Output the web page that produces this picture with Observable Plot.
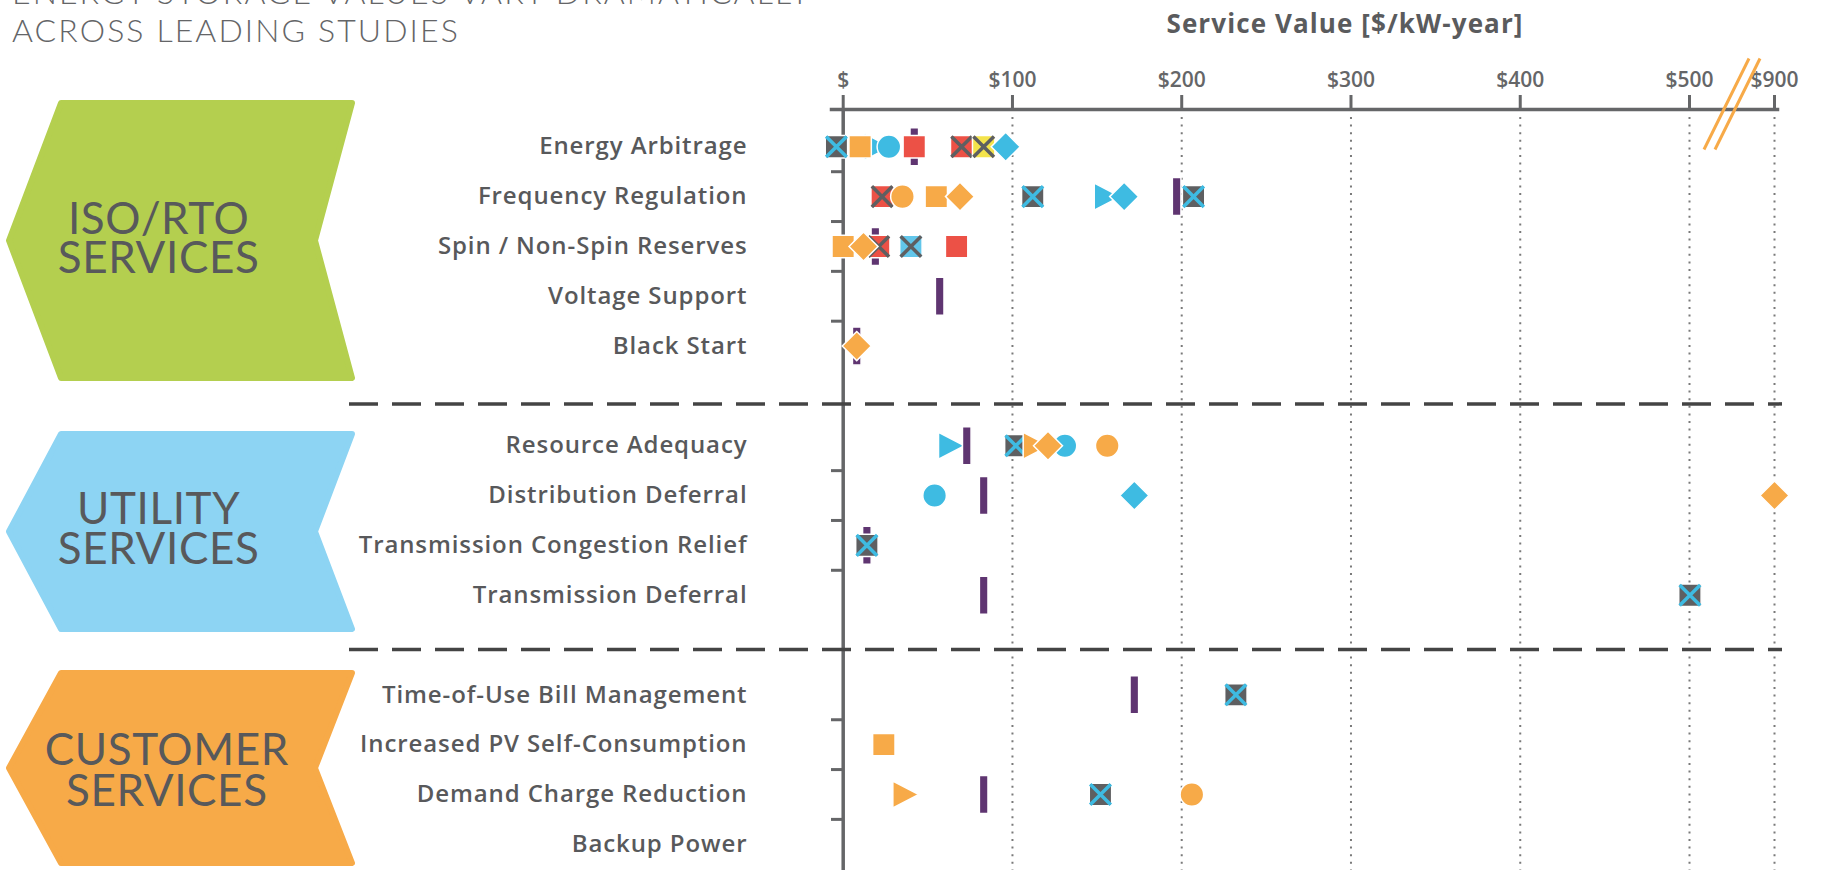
<!DOCTYPE html>
<html>
<head>
<meta charset="utf-8">
<script src="https://cdn.jsdelivr.net/npm/d3@7"></script>
<script src="https://cdn.jsdelivr.net/npm/@observablehq/plot@0.6"></script>
<style>
  html, body { margin: 0; padding: 0; background: #fff; }
  #wrap { position: relative; width: 1835px; height: 870px; overflow: hidden; background: #fff; }
  #deco, #chart { position: absolute; left: 0; top: 0; }
  .head { position: absolute; left: 12px; font-family: Lato, "Open Sans", sans-serif; font-weight: 300;
          font-size: 32px; letter-spacing: 2.1px; color: #646567; white-space: nowrap; line-height: 32px; }
  .axtitle { position: absolute; left: 1095px; width: 500px; text-align: center; top: 8px;
             font-family: "Open Sans", sans-serif; font-weight: 700; font-size: 26px; letter-spacing: 1.1px;
             color: #5a5b5d; line-height: 30px; }
  .rowlab text { letter-spacing: 0.9px; }
</style>
</head>
<body>
<div id="wrap">
  <svg id="deco" width="1835" height="870"></svg>
  <div id="chart"></div>
  <div class="head" style="top:-24px">ENERGY STORAGE VALUES VARY DRAMATICALLY</div>
  <div class="head" style="top:14px">ACROSS LEADING STUDIES</div>
  <div class="axtitle">Service Value [$/kW-year]</div>
</div>
<script>
// ---------------- data ----------------
const groupNames = [["ISO/RTO", "SERVICES"], ["UTILITY", "SERVICES"], ["CUSTOMER", "SERVICES"]];
const isoServices = ["Energy Arbitrage", "Frequency Regulation", "Spin / Non-Spin Reserves", "Voltage Support", "Black Start"];
const utilityServices = ["Resource Adequacy", "Distribution Deferral", "Transmission Congestion Relief", "Transmission Deferral"];
const customerServices = ["Time-of-Use Bill Management", "Increased PV Self-Consumption", "Demand Charge Reduction", "Backup Power"];

const xTickValues = [0, 100, 200, 300, 400, 500, 900];
const xTickLabels = ["$", "$100", "$200", "$300", "$400", "$500", "$900"];
const xBreak = [500, 900];   // axis is broken between these two values

// Study estimates [service, $/kW-year], one list per study marker
const grayBlueX = [["Energy Arbitrage", -4], ["Frequency Regulation", 112], ["Frequency Regulation", 207],
  ["Resource Adequacy", 102], ["Transmission Congestion Relief", 14], ["Transmission Deferral", 502],
  ["Time-of-Use Bill Management", 232], ["Demand Charge Reduction", 152]];
const blueGrayX = [["Spin / Non-Spin Reserves", 40]];
const orangeSquare = [["Energy Arbitrage", 10], ["Frequency Regulation", 55], ["Spin / Non-Spin Reserves", 0],
  ["Increased PV Self-Consumption", 24]];
const blueCircle = [["Energy Arbitrage", 27], ["Resource Adequacy", 131], ["Distribution Deferral", 54]];
const purpleBar = [["Energy Arbitrage", 42], ["Frequency Regulation", 197], ["Spin / Non-Spin Reserves", 19],
  ["Voltage Support", 57], ["Black Start", 8], ["Resource Adequacy", 73], ["Distribution Deferral", 83],
  ["Transmission Congestion Relief", 14], ["Transmission Deferral", 83], ["Time-of-Use Bill Management", 172],
  ["Demand Charge Reduction", 83]];
const redSquare = [["Energy Arbitrage", 42], ["Spin / Non-Spin Reserves", 67]];
const redX = [["Energy Arbitrage", 70], ["Frequency Regulation", 23], ["Spin / Non-Spin Reserves", 21]];
const yellowX = [["Energy Arbitrage", 83]];
const blueDiamond = [["Energy Arbitrage", 96], ["Frequency Regulation", 166], ["Distribution Deferral", 172]];
const orangeCircle = [["Frequency Regulation", 35], ["Resource Adequacy", 156], ["Demand Charge Reduction", 206]];
const orangeDiamond = [["Frequency Regulation", 69], ["Spin / Non-Spin Reserves", 12], ["Black Start", 8],
  ["Resource Adequacy", 121], ["Distribution Deferral", 900]];
const blueTriangle = [["Energy Arbitrage", 20], ["Frequency Regulation", 156], ["Resource Adequacy", 64]];
const orangeTriangle = [["Resource Adequacy", 114], ["Demand Charge Reduction", 37]];

// ---------------- styles ----------------
const C = {
  gray: "#5e5f61", blue: "#3ebbe2", lightBlue: "#62c6ea", orange: "#f7aa48", red: "#ec5146",
  yellow: "#f4e34b", purple: "#5f3571", text: "#58595b", axis: "#656668",
  green: "#b4cf4f", chevBlue: "#8dd4f3", chevOrange: "#f7aa48"
};

// ---------------- row layout (one empty row between groups) ----------------
const groups = [isoServices, utilityServices, customerServices];
const rowIndex = new Map();
const gapRows = [];
const boundaries = [];
{
  let k = 0;
  groups.forEach((g, gi) => {
    if (gi > 0) { gapRows.push(k); k += 1; }
    g.forEach((c, ci) => { rowIndex.set(c, k); if (ci < g.length - 1) boundaries.push(k + 0.5); k++; });
  });
}
const labelAt = new Map([...rowIndex].map(([c, i]) => [i, c]));
const nRows = d3.max(rowIndex.values());

// ---------------- symbols ----------------
const sym = f => ({ draw(c) { f(c); } });
const squareSym = sym(c => { const s = 11.2; c.moveTo(-s, -s); c.lineTo(s, -s); c.lineTo(s, s); c.lineTo(-s, s); c.closePath(); });
const crossSym = sym(c => { const s = 10.3; c.moveTo(-s, -s); c.lineTo(s, s); c.moveTo(s, -s); c.lineTo(-s, s); });
const circleSym = sym(c => { const r = 11.8; c.moveTo(r, 0); c.arc(0, 0, r, 0, 2 * Math.PI); c.closePath(); });
const diamondSym = sym(c => { const r = 14.5; c.moveTo(0, -r); c.lineTo(r, 0); c.lineTo(0, r); c.lineTo(-r, 0); c.closePath(); });
const triangleSym = sym(c => { c.moveTo(-13, -13.5); c.lineTo(13, 0); c.lineTo(-13, 13.5); c.closePath(); });
const barSym = sym(c => { c.moveTo(-4.3, -19); c.lineTo(4.3, -19); c.lineTo(4.3, 19); c.lineTo(-4.3, 19); c.closePath(); });
const breakSym = sym(c => { for (const o of [-5.5, 5.5]) { c.moveTo(o - 22.5, 45.5); c.lineTo(o + 22.5, -45.5); } });

const X = d => d[1];
const Y = d => rowIndex.get(d[0]);
const shape = (data, symbol, fill) => Plot.dot(data, { x: X, y: Y, symbol, fill, stroke: "white", strokeWidth: 1.5 });
const cross = (data, color) => Plot.dot(data, { x: X, y: Y, symbol: crossSym, fill: "none", stroke: color, strokeWidth: 3.5 });
const separator = (rows, dy) => Plot.ruleY(rows, { dy, stroke: "#444", strokeWidth: 3.5, strokeDasharray: "29,14", insetLeft: -494, insetRight: -5 });

// ---------------- chart ----------------
const chart = Plot.plot({
  width: 1835, height: 870,
  marginTop: 109, marginBottom: 0, marginLeft: 843, marginRight: 58,
  style: { background: "transparent", fontFamily: "'Open Sans', sans-serif", overflow: "visible" },
  x: { type: "linear", domain: [0, ...xBreak], range: [842.7, 1689, 1774], axis: null },
  y: { type: "linear", domain: [0, nRows], range: [146.3, 843.8], axis: null },
  marks: [
    Plot.gridX(xTickValues.filter(d => d > 0), { stroke: "#7a7a7a", strokeOpacity: 1, strokeWidth: 2, strokeDasharray: "2,5.6", insetTop: 8 }),
    Plot.ruleX([0], { stroke: C.axis, strokeWidth: 3.5 }),
    Plot.frame({ anchor: "top", stroke: C.axis, strokeWidth: 3.5, insetLeft: -12 }),
    Plot.axisX(xTickValues, {
      anchor: "top", tickSize: 15, tickPadding: 8, strokeWidth: 3, color: C.axis,
      tickFormat: d => xTickLabels[xTickValues.indexOf(d)], fontSize: 21, fontWeight: 600, label: null
    }),
    Plot.axisY(boundaries, { anchor: "left", tickSize: 12, strokeWidth: 3, color: C.axis, tickFormat: () => "", label: null }),
    Plot.axisY([...rowIndex.values()], {
      anchor: "left", tickSize: 0, tickPadding: 96, tickFormat: i => labelAt.get(i),
      fontSize: 24, fontWeight: 600, color: C.text, label: null, className: "rowlab"
    }),
    separator(gapRows.slice(0, 1), 8),
    separator(gapRows.slice(1), 4.5),
    Plot.dot([(xBreak[0] + xBreak[1]) / 2], { x: d => d, frameAnchor: "top", dy: -5.5, symbol: breakSym, fill: "none", stroke: C.orange, strokeWidth: 3 }),
    shape(blueTriangle, triangleSym, C.blue),
    shape(purpleBar, barSym, C.purple),
    shape(blueCircle, circleSym, C.blue),
    shape(grayBlueX, squareSym, C.gray), cross(grayBlueX, C.blue),
    shape(blueGrayX, squareSym, C.lightBlue), cross(blueGrayX, C.gray),
    shape(redSquare, squareSym, C.red),
    shape(redX, squareSym, C.red), cross(redX, C.gray),
    shape(yellowX, squareSym, C.yellow), cross(yellowX, C.gray),
    shape(orangeSquare, squareSym, C.orange),
    shape(orangeCircle, circleSym, C.orange),
    shape(orangeTriangle, triangleSym, C.orange),
    shape(blueDiamond, diamondSym, C.blue),
    shape(orangeDiamond, diamondSym, C.orange)
  ]
});
document.getElementById("chart").appendChild(chart);

// ---------------- group chevrons ----------------
const deco = d3.select("#deco");
const chevrons = [
  { top: 100, bottom: 381, fill: C.green, cx: 158.6, base: [234, 273] },
  { top: 431, bottom: 632, fill: C.chevBlue, cx: 158.6, base: [524, 564] },
  { top: 670, bottom: 866, fill: C.chevOrange, cx: 166.8, base: [765, 806] }
];
chevrons.forEach((ch, i) => {
  const m = (ch.top + ch.bottom) / 2, t = ch.top + 3, b = ch.bottom - 3;
  const pts = [[61, t], [352, t], [315, m], [352, b], [61, b], [9, m]];
  deco.append("path").attr("d", "M" + pts.join("L") + "Z")
    .attr("fill", ch.fill).attr("stroke", ch.fill).attr("stroke-width", 6).attr("stroke-linejoin", "round");
  const txt = deco.append("text").attr("text-anchor", "middle")
    .attr("font-family", "Lato, 'Open Sans', sans-serif").attr("font-weight", 400).attr("font-size", 44)
    .attr("letter-spacing", 0.6).attr("fill", C.text);
  groupNames[i].forEach((line, j) => {
    txt.append("tspan").attr("x", ch.cx).attr("y", ch.base[j]).text(line);
  });
});
</script>
</body>
</html>
